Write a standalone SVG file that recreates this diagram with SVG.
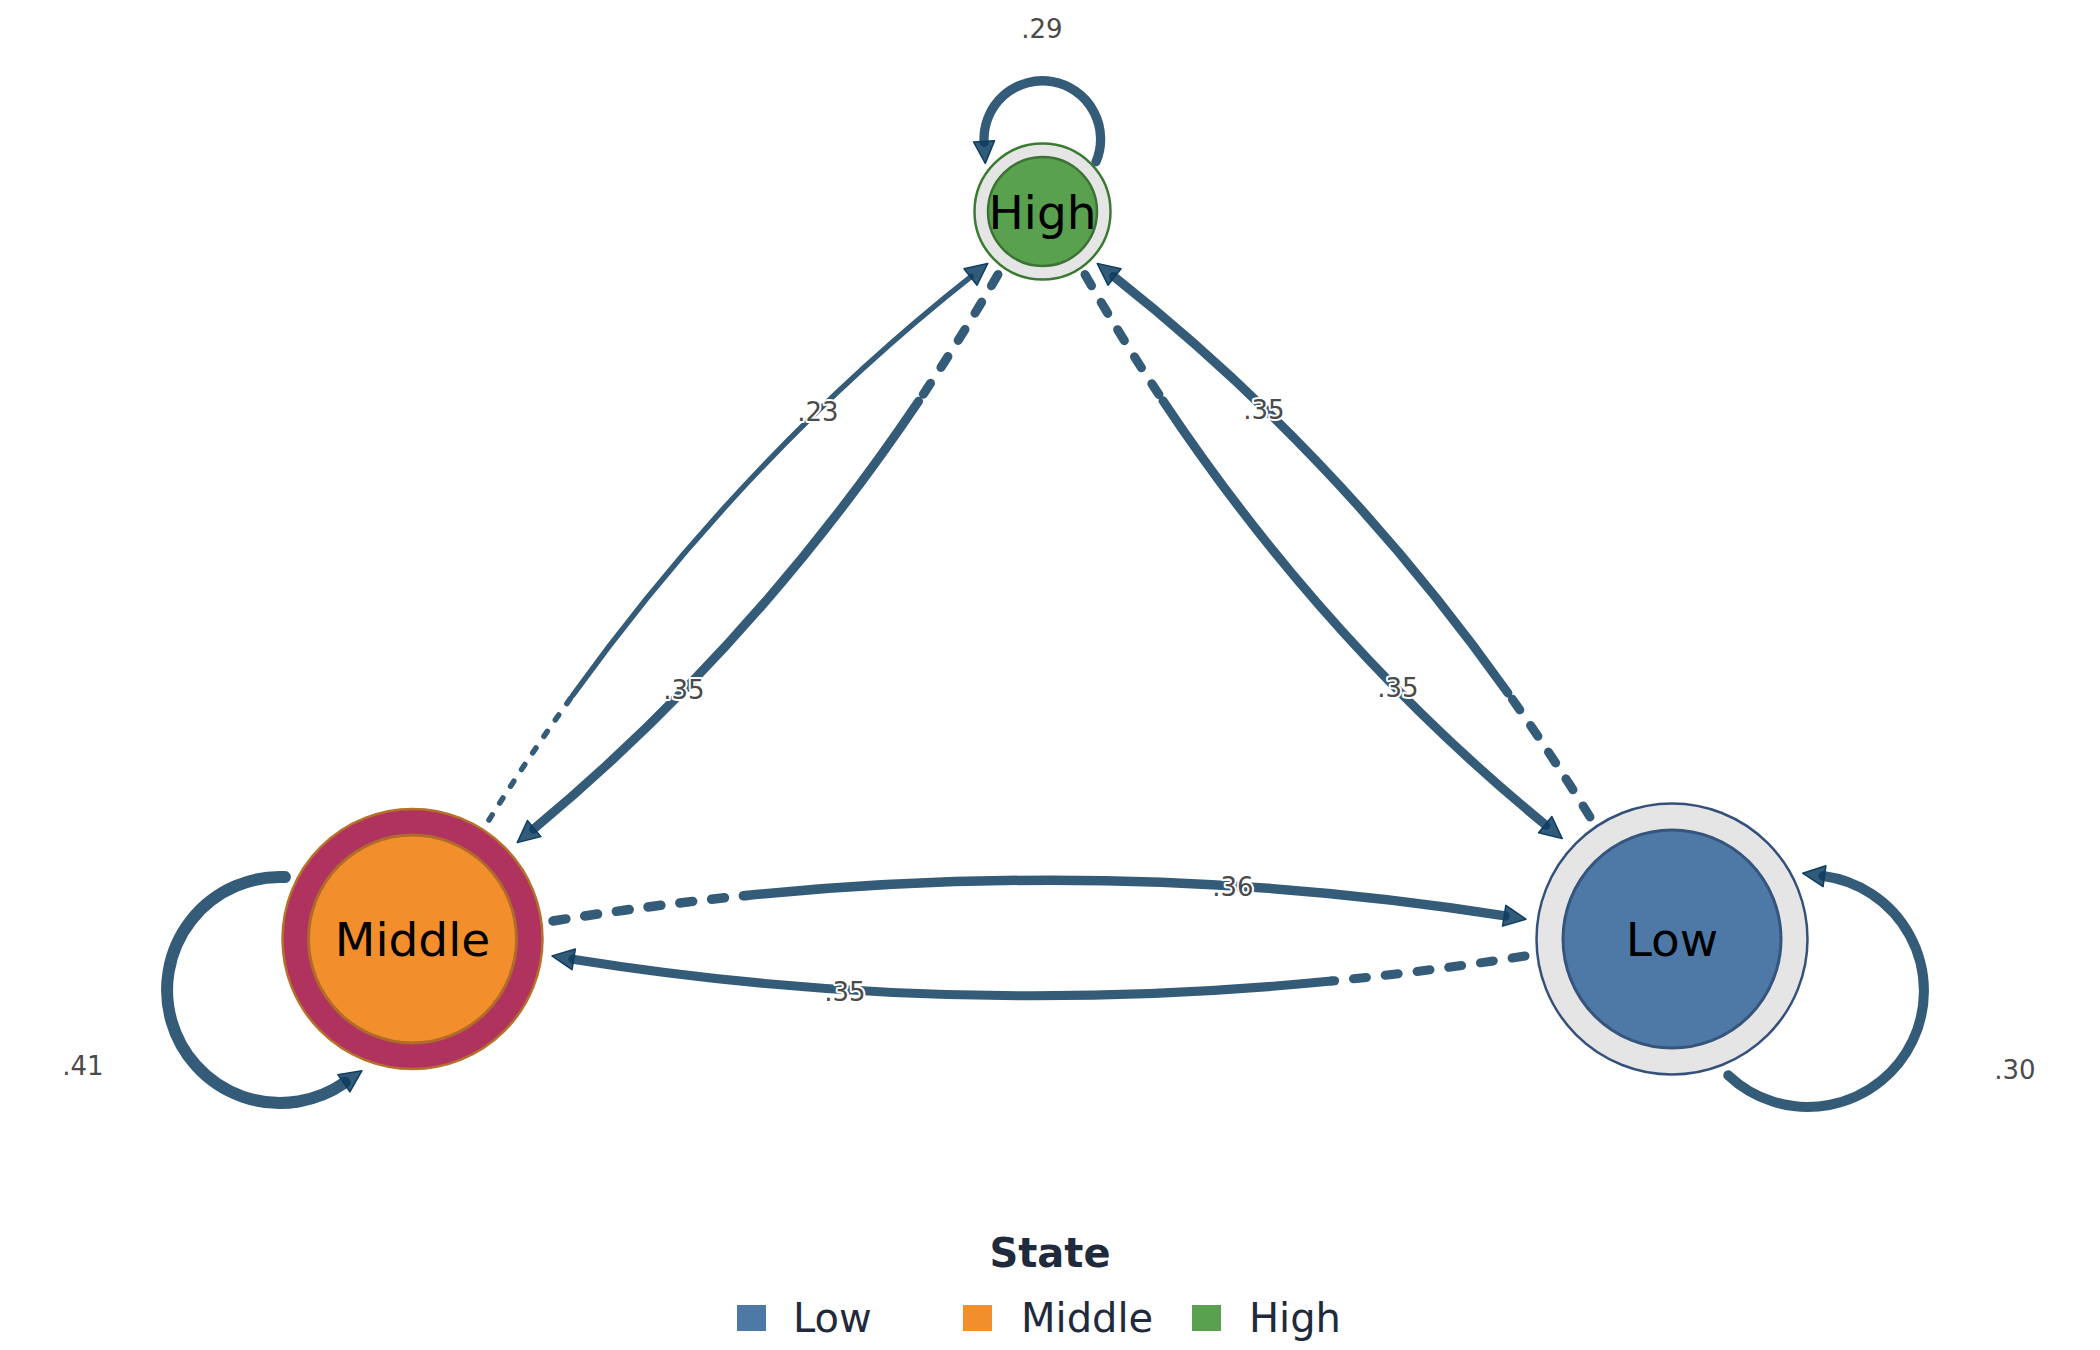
<svg xmlns="http://www.w3.org/2000/svg" width="2100" height="1350" viewBox="0 0 2100 1350">
<style>
text{font-family:"DejaVu Sans","Liberation Sans",sans-serif}
.edge{fill:none;stroke:#345b78;stroke-linecap:round}
.dash{stroke-dasharray:13 19}
.dashthin{stroke-dasharray:6 14}
.elab{font-size:26px;fill:#4a4a4a;text-anchor:middle;stroke:#fff;stroke-width:4;paint-order:stroke;stroke-linejoin:round}
.nlab{font-size:47px;fill:#000;text-anchor:middle}
.leg{font-size:40px;fill:#1f2a3c}
</style>
<defs>
<marker id="arr" markerUnits="userSpaceOnUse" markerWidth="23" markerHeight="21" viewBox="0 0 23 21" refX="1" refY="10.5" orient="auto" overflow="visible">
<path d="M0,0 L22,10.5 L0,21 Z" fill="#0e3d61" fill-opacity="0.85" stroke="#0e3d61" stroke-width="1.5" stroke-linejoin="round"/>
</marker>
</defs>
<rect width="2100" height="1350" fill="#fff"/>
<g id="connectors">
<!-- Middle -> High (.23) -->
<path class="edge dashthin" stroke-width="5.5" d="M489,820 Q529.2,755.8 572.6,695.5"/>
<path class="edge" stroke-width="5.5" stroke-linecap="butt" d="M572.6,695.5 Q746.3,454.5 971.3,276.4" marker-end="url(#arr)"/>
<!-- High -> Middle (.35) -->
<path class="edge dash" stroke-width="9" d="M998,274.5 Q960,339.8 918.6,401.2"/>
<path class="edge" stroke-width="9" stroke-linecap="butt" d="M918.6,401.2 Q753.1,646.6 533.4,829.2" marker-end="url(#arr)"/>
<!-- High -> Low (.35) -->
<path class="edge dash" stroke-width="9" d="M1085,274.5 Q1122.2,339.6 1163,400.7"/>
<path class="edge" stroke-width="9" stroke-linecap="butt" d="M1163,400.7 Q1326,645.1 1546,825.3" marker-end="url(#arr)"/>
<!-- Low -> High (.35) -->
<path class="edge dash" stroke-width="9" d="M1590,817 Q1550.6,753 1507.9,693"/>
<path class="edge" stroke-width="9" stroke-linecap="butt" d="M1507.9,693 Q1337.1,452.9 1113.7,276.4" marker-end="url(#arr)"/>
<!-- Middle -> Low (.36) -->
<path class="edge dash" stroke-width="9.5" d="M553,921 Q650.2,905.2 746.6,895.5"/>
<path class="edge" stroke-width="9.5" stroke-linecap="butt" d="M746.6,895.5 Q1132.2,856.8 1505.2,915.9" marker-end="url(#arr)"/>
<!-- Low -> Middle (.35) -->
<path class="edge dash" stroke-width="9" d="M1525,956 Q1427.8,971.6 1331.4,981.1"/>
<path class="edge" stroke-width="9" stroke-linecap="butt" d="M1331.4,981.1 Q945.7,1019 572.7,959.2" marker-end="url(#arr)"/>
<!-- self loops -->
<path class="edge" stroke-width="9.3" stroke-linecap="butt" d="M1096,161.8 A58.3,58.3 0 1 0 984.1,142.4" marker-end="url(#arr)"/>
<path class="edge" stroke-width="12" stroke-linecap="butt" d="M284.9,877.1 A113,113 0 1 0 344.7,1082.7" marker-end="url(#arr)"/>
<path class="edge" stroke-width="10" stroke-linecap="butt" d="M1728.3,1075.3 A116,116 0 1 0 1823.5,876" marker-end="url(#arr)"/>
</g>
<g id="edge-labels">
<text class="elab" x="818" y="421">.23</text>
<text class="elab" x="684" y="699">.35</text>
<text class="elab" x="1264" y="419">.35</text>
<text class="elab" x="1398" y="697">.35</text>
<text class="elab" x="1233" y="896">.36</text>
<text class="elab" x="845" y="1001">.35</text>
<text class="elab" x="1042" y="38">.29</text>
<text class="elab" x="83" y="1075">.41</text>
<text class="elab" x="2015" y="1079">.30</text>
</g>
<g id="node-high">
<circle cx="1042.5" cy="211.5" r="68" fill="#e5e5e5" stroke="#3b7a32" stroke-width="2.5"/>
<circle cx="1042.5" cy="211.5" r="54.5" fill="#59a14f" stroke="#3c7334" stroke-width="2.5"/>
<text class="nlab" x="1042.5" y="229">High</text>
</g>
<g id="node-middle">
<circle cx="412.5" cy="939" r="130" fill="#b0325e" stroke="#b5702a" stroke-width="2.5"/>
<circle cx="412.5" cy="939" r="104" fill="#f28e2b" stroke="#b06a2a" stroke-width="3"/>
<text class="nlab" x="412.5" y="956">Middle</text>
</g>
<g id="node-low">
<circle cx="1672" cy="939" r="135.5" fill="#e5e5e5" stroke="#35507a" stroke-width="2.5"/>
<circle cx="1672" cy="939" r="109" fill="#4e79a7" stroke="#36557c" stroke-width="3"/>
<text class="nlab" x="1672" y="956">Low</text>
</g>
<g id="legend">
<text x="1050" y="1267" font-size="40" font-weight="bold" fill="#1f2a3c" text-anchor="middle">State</text>
<rect x="737" y="1305" width="29" height="26" fill="#4e79a7"/>
<text class="leg" x="793" y="1332">Low</text>
<rect x="963" y="1305" width="29" height="26" fill="#f28e2b"/>
<text class="leg" x="1021" y="1332">Middle</text>
<rect x="1192" y="1305" width="29" height="26" fill="#59a14f"/>
<text class="leg" x="1249" y="1332">High</text>
</g>
</svg>
